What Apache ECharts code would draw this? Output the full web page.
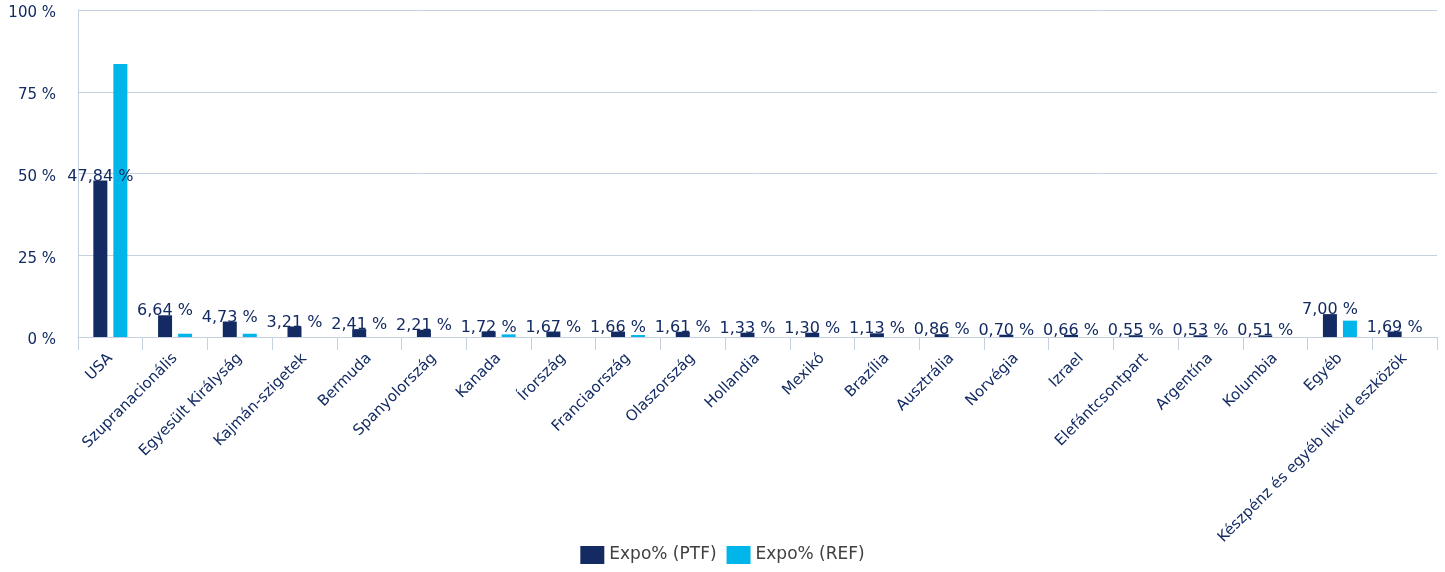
<!DOCTYPE html>
<html><head><meta charset="utf-8">
<script src="https://cdn.jsdelivr.net/npm/echarts@6/dist/echarts.min.js"></script>
<style>html,body{margin:0;padding:0;background:#fff}#c{width:1445px;height:572px}</style>
</head><body><div id="c"></div>
<script>
const categories = ["USA","Szupranacionális","Egyesült Királyság","Kajmán-szigetek","Bermuda","Spanyolország","Kanada","Írország","Franciaország","Olaszország","Hollandia","Mexikó","Brazília","Ausztrália","Norvégia","Izrael","Elefántcsontpart","Argentína","Kolumbia","Egyéb","Készpénz és egyéb likvid eszközök"];
const ptf = [47.84,6.64,4.73,3.21,2.41,2.21,1.72,1.67,1.66,1.61,1.33,1.30,1.13,0.86,0.70,0.66,0.55,0.53,0.51,7.00,1.69];
const ref = [83.5,1.0,1.0,0,0,0,0.8,0,0.6,0,0,0,0,0,0,0,0,0,0,5.0,0];
const yTicks = [0,25,50,75,100];
const seriesNames = ["Expo% (PTF)","Expo% (REF)"];
const font = "DejaVu Sans, Verdana, sans-serif";
const navy = "#132b62";
const chart = echarts.init(document.getElementById('c'));
chart.setOption({
  animation:false,
  textStyle:{fontFamily:font},
  grid:{left:78,right:8,top:10,bottom:235},
  legend:{bottom:3,left:'center',itemWidth:24,itemHeight:18,itemGap:10,icon:'rect',
    textStyle:{fontFamily:font,fontSize:17,color:'#404040'},data:seriesNames},
  xAxis:{type:'category',data:categories,
    axisLine:{lineStyle:{color:'#c5d0e0',width:1}},
    axisTick:{show:true,length:13,lineStyle:{color:'#c5d0e0'}},
    axisLabel:{rotate:45,interval:0,fontSize:15,color:navy,fontFamily:font,margin:19}},
  yAxis:{type:'value',min:yTicks[0],max:yTicks[yTicks.length-1],interval:25,
    axisLine:{show:true,lineStyle:{color:'#c5d0e0'}},
    splitLine:{lineStyle:{color:'#c5d0e0'}},
    axisLabel:{margin:22,formatter:v=>'{a|'+v+' %}',
      rich:{a:{fontSize:15,color:navy,fontFamily:font,padding:[7,0,0,0]}}}},
  series:[
    {name:seriesNames[0],type:'bar',data:ptf,barWidth:14,barGap:'43%',itemStyle:{color:navy},
     label:{show:true,position:'top',distance:-4,fontSize:16,color:navy,fontFamily:font,
       formatter:p=>p.value.toFixed(2).replace('.',',')+' %'}},
    {name:seriesNames[1],type:'bar',data:ref,barWidth:14,itemStyle:{color:'#00b5e9'}}
  ]
});
</script></body></html>
